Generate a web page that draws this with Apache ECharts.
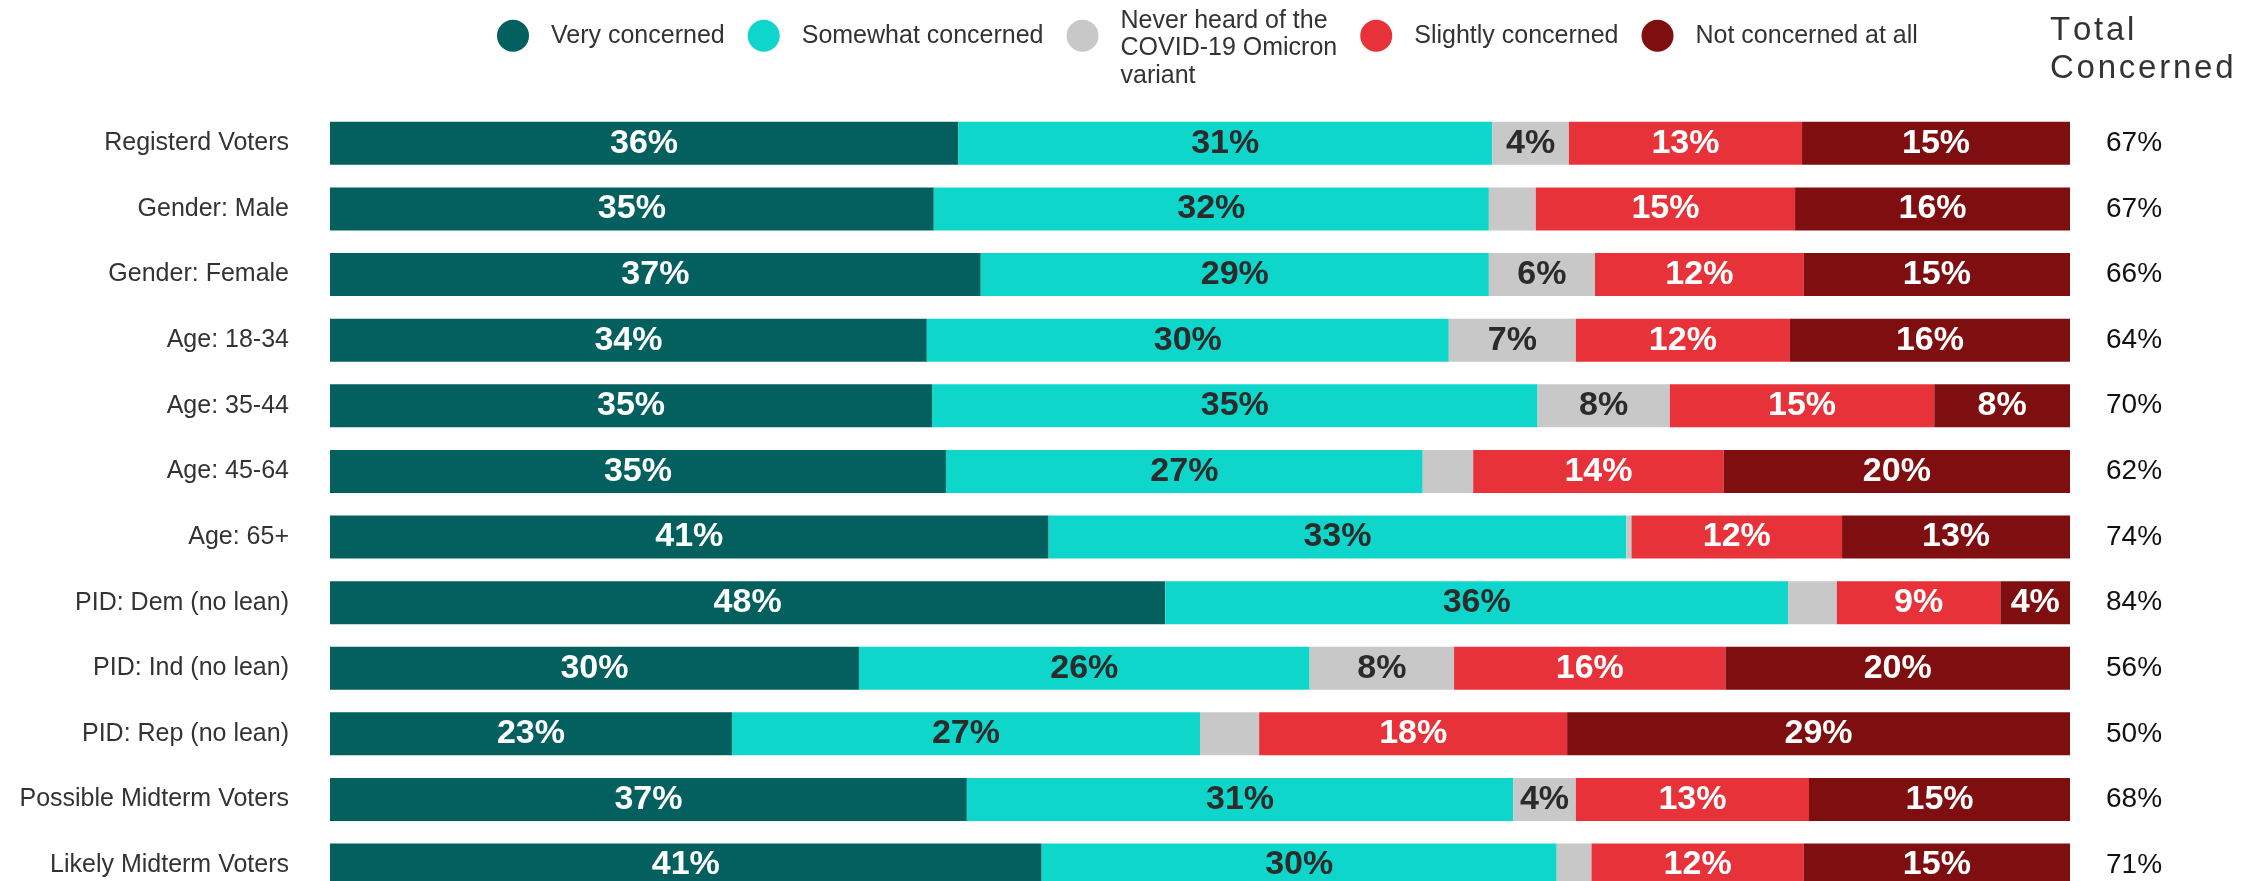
<!DOCTYPE html>
<html>
<head>
<meta charset="utf-8">
<script src="https://cdn.jsdelivr.net/npm/echarts@6/dist/echarts.min.js"></script>
<style>
  html, body { margin: 0; padding: 0; background: #ffffff; }
  #chart { width: 2264px; height: 881px; }
</style>
</head>
<body>
<div id="chart"></div>
<script>
// ---- data ----
const categories = ['Registerd Voters', 'Gender: Male', 'Gender: Female', 'Age: 18-34', 'Age: 35-44', 'Age: 45-64', 'Age: 65+', 'PID: Dem (no lean)', 'PID: Ind (no lean)', 'PID: Rep (no lean)', 'Possible Midterm Voters', 'Likely Midterm Voters'];
const veryConcerned     = [36.1, 34.7, 37.4, 34.3, 34.6, 35.4, 41.3, 48.0, 30.4, 23.1, 36.6, 40.9];
const somewhatConcerned = [30.7, 31.9, 29.2, 30.0, 34.8, 27.4, 33.2, 35.8, 25.9, 26.9, 31.4, 29.6];
const neverHeard        = [4.4, 2.7, 6.1, 7.3, 7.6, 2.9, 0.3, 2.8, 8.3, 3.4, 3.6, 2.0];
const slightlyConcerned = [13.4, 14.9, 12.0, 12.3, 15.2, 14.4, 12.1, 9.4, 15.6, 17.7, 13.4, 12.2];
const notConcerned      = [15.4, 15.8, 15.3, 16.1, 7.8, 19.9, 13.1, 4.0, 19.8, 28.9, 15.0, 15.3];
const totalConcerned    = [67, 67, 66, 64, 70, 62, 74, 84, 56, 50, 68, 71];
const seriesNames = ['Very concerned', 'Somewhat concerned', 'Never heard of the\nCOVID-19 Omicron\nvariant', 'Slightly concerned', 'Not concerned at all'];

// ---- styling ----
const FONT = "'Liberation Sans', Arial, sans-serif";
const colors = ['#03605f', '#0fd6cb', '#c8c8c8', '#e8323a', '#7f0e10'];
const labelColors = ['#ffffff', '#2b2b2b', '#2b2b2b', '#ffffff', '#ffffff'];
const seriesData = [veryConcerned, somewhatConcerned, neverHeard, slightlyConcerned, notConcerned];

function spaced(s) { return s.split('').join('\u200A'); }

const chart = echarts.init(document.getElementById('chart'), null, { renderer: 'canvas' });

const option = {
  backgroundColor: '#ffffff',
  animation: false,
  textStyle: { fontFamily: FONT },
  title: {
    text: spaced('Total') + '\n' + spaced('Concerned'),
    left: 2050,
    top: 12,
    padding: 0,
    textStyle: { fontFamily: FONT, fontSize: 33, fontWeight: 'normal', color: '#333333', lineHeight: 38 }
  },
  legend: {
    left: 497,
    top: -6,
    padding: 0,
    itemWidth: 32,
    itemHeight: 32,
    itemGap: 23,
    icon: 'circle',
    formatter: function (name) {
      if (name.indexOf('\n') < 0) return '{t|' + name + '}';
      return '{gap|}\n' + name.split('\n').map(s => '{m|' + s + '}').join('\n');
    },
    textStyle: {
      fontFamily: FONT, fontSize: 25, color: '#333333', padding: [0, 0, 0, 17],
      rich: {
        t: { fontFamily: FONT, fontSize: 25, color: '#333333' },
        m: { fontFamily: FONT, fontSize: 25, color: '#333333', lineHeight: 27.5 },
        gap: { fontSize: 1, lineHeight: 25 }
      }
    },
    data: seriesNames
  },
  grid: { left: 330, right: 194, top: 110.5, height: 787.4, containLabel: false, outerBoundsMode: 'none' },
  xAxis: { type: 'value', min: 0, max: 100, show: false },
  yAxis: [
    {
      type: 'category', data: categories, inverse: true,
      axisLine: { show: false }, axisTick: { show: false }, splitLine: { show: false },
      axisLabel: { interval: 0, margin: 41, fontFamily: FONT, fontSize: 25, color: '#333333' }
    },
    {
      type: 'category', data: categories, inverse: true, position: 'right',
      axisLine: { show: false }, axisTick: { show: false }, splitLine: { show: false },
      axisLabel: {
        interval: 0, margin: 36, align: 'left', fontFamily: FONT, fontSize: 28, color: '#111111',
        formatter: (v, i) => totalConcerned[i] + '%'
      }
    }
  ],
  series: seriesNames.map((name, i) => ({
    name: name,
    type: 'bar',
    stack: 'total',
    yAxisIndex: 0,
    barWidth: 43,
    itemStyle: { color: colors[i] },
    label: {
      show: true,
      position: 'inside',
      fontFamily: FONT,
      fontSize: 34,
      fontWeight: 'bold',
      color: labelColors[i],
      formatter: p => (p.value >= 3.5 ? Math.round(p.value) + '%' : '')
    },
    emphasis: { disabled: true },
    data: seriesData[i]
  }))
};
chart.setOption(option);
</script>
</body>
</html>
